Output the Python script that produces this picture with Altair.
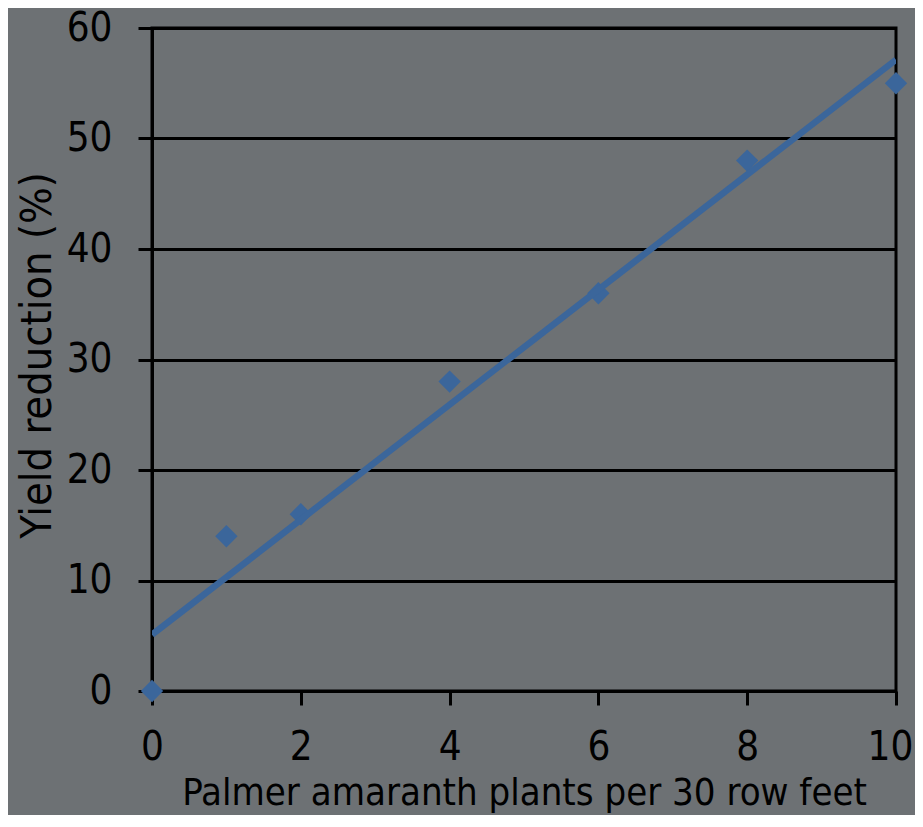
import altair as alt
import pandas as pd

# Data
plants = [0, 1, 2, 4, 6, 8, 10]
yield_reduction = [0, 14, 16, 28, 36, 48, 55]
x_ticks = [0, 2, 4, 6, 8, 10]
y_ticks = [0, 10, 20, 30, 40, 50, 60]

df = pd.DataFrame({"plants": plants, "reduction": yield_reduction})

FONT = "DejaVu Sans Condensed, DejaVu Sans"
BLUE = "#3b669b"
BG = "#6d7174"

x_enc = alt.X(
    "plants:Q",
    scale=alt.Scale(domain=[0, 10], nice=False, zero=False),
    axis=alt.Axis(
        values=x_ticks,
        grid=False,
        title="Palmer amaranth plants per 30 row feet",
        titleFontSize=38,
        titleFontWeight="normal",
        titleBaseline="alphabetic",
        titleY=113,
        labelFontSize=40,
        labelPadding=22,
        labelFlush=False,
        labelOffset={"expr": "datum.value == 10 ? -6 : 0"},
        format="d",
    ),
)
y_enc = alt.Y(
    "reduction:Q",
    scale=alt.Scale(domain=[0, 60], nice=False),
    axis=alt.Axis(
        values=y_ticks,
        grid=True,
        title="Yield reduction (%)",
        titleFontSize=43,
        titleFontWeight="normal",
        titleAngle=-90,
        titleBaseline="alphabetic",
        titleAlign="center",
        titleX=-102,
        titleY=327,
        labelFontSize=40,
        labelPadding=26,
        labelFlush=False,
        format="d",
    ),
)

points = alt.Chart(df).mark_point(
    shape="diamond", filled=True, size=500, color=BLUE, opacity=1
).encode(x=x_enc, y=y_enc)

trend = alt.Chart(df).transform_regression(
    "plants", "reduction"
).mark_line(color=BLUE, strokeWidth=6.5, clip=True).encode(
    x="plants:Q", y="reduction:Q"
)

chart = (
    alt.layer(points, trend)
    .properties(
        width=744,
        height=663,
        autosize=alt.AutoSizeParams(type="none"),
        padding={"left": 144, "top": 20, "right": 19, "bottom": 124},
        background=BG,
    )
    .configure_view(stroke="black", strokeWidth=3, fill=BG)
    .configure_axis(
        domainColor="black",
        domainWidth=3,
        gridColor="black",
        gridWidth=3,
        tickColor="black",
        tickWidth=3,
        tickSize=14,
        labelColor="black",
        titleColor="black",
        labelFont=FONT,
        titleFont=FONT,
    )
)

chart.save("out.html", embed_options={"renderer": "svg", "actions": False})
